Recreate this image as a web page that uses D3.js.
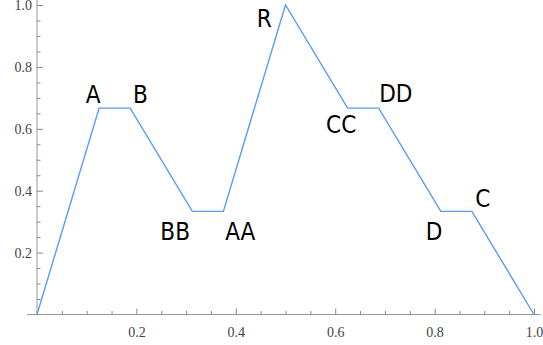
<!DOCTYPE html>
<html>
<head>
<meta charset="utf-8">
<script src="https://cdn.jsdelivr.net/npm/d3@7"></script>
<style>
  body { margin: 0; background: #fff; }
  svg { display: block; }
  .tick text { font-family: "Liberation Serif", "DejaVu Serif", serif; font-size: 14px; }
</style>
</head>
<body>
<div id="vis"></div>
<script>
const FRAME_WIDTH = 543;
const FRAME_HEIGHT = 345;

// data: path vertices
const xValues = [0, 0.125, 0.1875, 0.3125, 0.375, 0.5, 0.625, 0.6875, 0.8125, 0.875, 1];
const yValues = [0, 2 / 3, 2 / 3, 1 / 3, 1 / 3, 1, 2 / 3, 2 / 3, 1 / 3, 1 / 3, 0];

// annotation text and where it sits (data coords: centre x, baseline y)
const labelText = ["A", "B", "BB", "AA", "R", "CC", "DD", "D", "C"];
const labelX = [0.113, 0.208, 0.278, 0.409, 0.457, 0.612, 0.722, 0.799, 0.897];
const labelY = [0.683, 0.683, 0.241, 0.241, 0.929, 0.586, 0.687, 0.241, 0.347];

const majorTicks = [0.2, 0.4, 0.6, 0.8, 1.0];
const majorTickLabels = ["0.2", "0.4", "0.6", "0.8", "1.0"];
const minorTicks = [0.05, 0.1, 0.15, 0.25, 0.3, 0.35, 0.45, 0.5, 0.55, 0.65, 0.7, 0.75, 0.85, 0.9, 0.95];

const X_SCALE = d3.scaleLinear().domain([0, 1]).range([37, 534]);
const Y_SCALE = d3.scaleLinear().domain([0, 1]).range([314.5, 5]);

const FRAME = d3.select("#vis")
  .append("svg")
  .attr("width", FRAME_WIDTH)
  .attr("height", FRAME_HEIGHT);

// axis lines
FRAME.append("line")
  .attr("x1", 27).attr("x2", 541)
  .attr("y1", Y_SCALE(0)).attr("y2", Y_SCALE(0))
  .attr("stroke", "#999").attr("stroke-width", 1);
FRAME.append("line")
  .attr("x1", X_SCALE(0)).attr("x2", X_SCALE(0))
  .attr("y1", 0).attr("y2", Y_SCALE(0))
  .attr("stroke", "#999").attr("stroke-width", 1);

const styleAxis = (g) => {
  g.select(".domain").remove();
  g.selectAll("line").attr("stroke", "#888");
  g.selectAll("text").attr("fill", "#444");
};

// x axis (ticks point inward / up)
FRAME.append("g")
  .attr("transform", `translate(0, ${Y_SCALE(0)})`)
  .call(d3.axisBottom(X_SCALE)
    .tickValues(majorTicks)
    .tickFormat((d, i) => majorTickLabels[i])
    .tickSizeInner(-6).tickSizeOuter(0).tickPadding(13))
  .call(styleAxis);

FRAME.append("g")
  .attr("transform", `translate(0, ${Y_SCALE(0)})`)
  .call(d3.axisBottom(X_SCALE)
    .tickValues(minorTicks).tickFormat("")
    .tickSizeInner(-3.5).tickSizeOuter(0))
  .call(styleAxis);

// y axis (ticks point inward / right)
FRAME.append("g")
  .attr("transform", `translate(${X_SCALE(0)}, 0)`)
  .call(d3.axisLeft(Y_SCALE)
    .tickValues(majorTicks)
    .tickFormat((d, i) => majorTickLabels[i])
    .tickSizeInner(-6).tickSizeOuter(0).tickPadding(5))
  .call(styleAxis);

FRAME.append("g")
  .attr("transform", `translate(${X_SCALE(0)}, 0)`)
  .call(d3.axisLeft(Y_SCALE)
    .tickValues(minorTicks).tickFormat("")
    .tickSizeInner(-3.5).tickSizeOuter(0))
  .call(styleAxis);

// the path
const points = xValues.map((x, i) => [x, yValues[i]]);
FRAME.append("path")
  .datum(points)
  .attr("fill", "none")
  .attr("stroke", "#5b9bf5")
  .attr("stroke-width", 1.4)
  .attr("d", d3.line().x((d) => X_SCALE(d[0])).y((d) => Y_SCALE(d[1])));

// labels
FRAME.selectAll(".lbl")
  .data(labelText)
  .enter()
  .append("text")
  .attr("class", "lbl")
  .attr("x", (d, i) => X_SCALE(labelX[i]))
  .attr("y", (d, i) => Y_SCALE(labelY[i]))
  .attr("text-anchor", "middle")
  .style("font-family", "'DejaVu Sans', sans-serif")
  .style("font-stretch", "condensed")
  .style("font-size", "24px")
  .attr("fill", "#000")
  .text((d) => d);
</script>
</body>
</html>
